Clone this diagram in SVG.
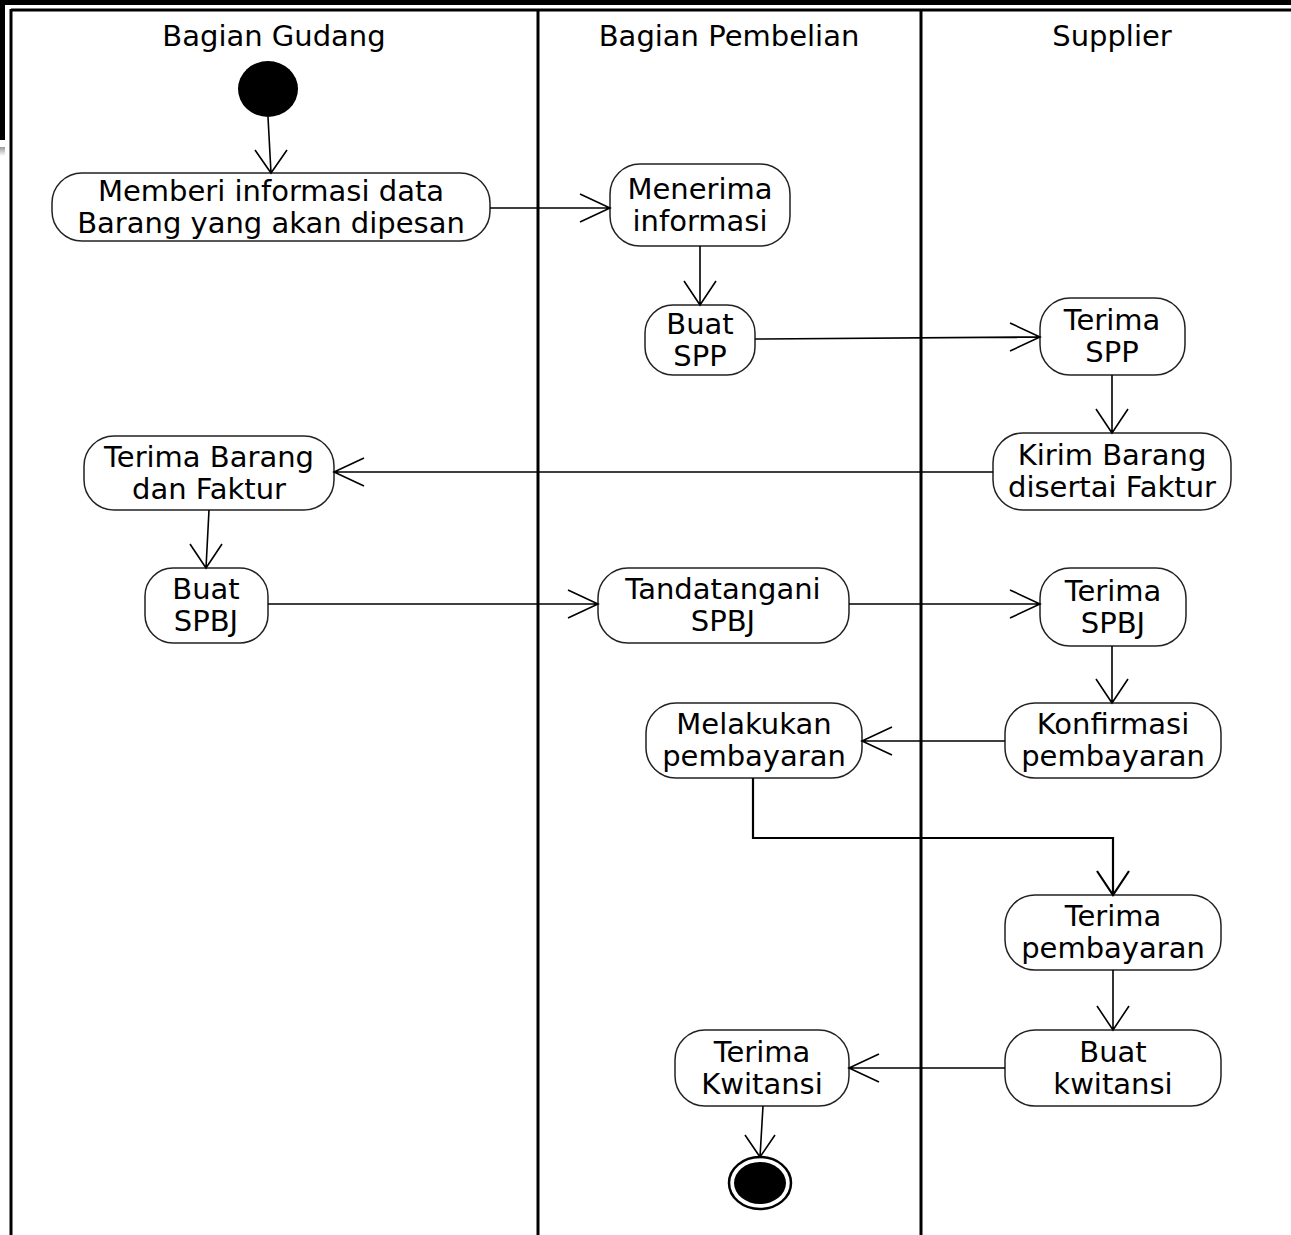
<svg xmlns="http://www.w3.org/2000/svg" width="1291" height="1235" viewBox="0 0 1291 1235">
<defs>
<linearGradient id="g1" x1="0" y1="0" x2="0" y2="1"><stop offset="0" stop-color="#999"/><stop offset="1" stop-color="#fff"/></linearGradient>
</defs>
<style>
.node rect{fill:#fff;stroke:#222;stroke-width:1.5}
text{font-family:"DejaVu Sans","Verdana",sans-serif;font-size:29px;fill:#000;text-anchor:middle}
.conn path{fill:none;stroke:#000;stroke-width:1.6}
.lane{stroke:#000;stroke-width:3}
</style>
<rect width="1291" height="1235" fill="#fff"/>
<g id="frame">
<rect x="0" y="0" width="1291" height="5" fill="#000"/>
<rect x="0" y="0" width="5" height="140" fill="#000"/>
<rect x="0" y="147" width="5" height="9" fill="url(#g1)"/>
<line class="lane" x1="11" y1="10" x2="1291" y2="10"/>
<line class="lane" x1="11" y1="9" x2="11" y2="1235"/>
<line class="lane" x1="538" y1="10" x2="538" y2="1235"/>
<line class="lane" x1="921" y1="10" x2="921" y2="1235"/>
</g>
<g id="headers">
<text x="274" y="46">Bagian Gudang</text>
<text x="729" y="46">Bagian Pembelian</text>
<text x="1112" y="46">Supplier</text>
</g>
<g id="start"><ellipse cx="268" cy="89" rx="30" ry="28" fill="#000"/></g>
<g id="n1" class="node"><rect x="52" y="173" width="438" height="68" rx="30"/><text x="271" y="201">Memberi informasi data</text><text x="271" y="233">Barang yang akan dipesan</text></g>
<g id="n2" class="node"><rect x="610" y="164" width="180" height="82" rx="30"/><text x="700" y="199">Menerima</text><text x="700" y="231">informasi</text></g>
<g id="n3" class="node"><rect x="645" y="305" width="110" height="70" rx="28"/><text x="700" y="334">Buat</text><text x="700" y="366">SPP</text></g>
<g id="n4" class="node"><rect x="1040" y="298" width="145" height="77" rx="30"/><text x="1112" y="330">Terima</text><text x="1112" y="362">SPP</text></g>
<g id="n5" class="node"><rect x="993" y="433" width="238" height="77" rx="30"/><text x="1112" y="465">Kirim Barang</text><text x="1112" y="497">disertai Faktur</text></g>
<g id="n6" class="node"><rect x="84" y="436" width="250" height="74" rx="30"/><text x="209" y="467">Terima Barang</text><text x="209" y="499">dan Faktur</text></g>
<g id="n7" class="node"><rect x="145" y="568" width="123" height="75" rx="28"/><text x="206" y="599">Buat</text><text x="206" y="631">SPBJ</text></g>
<g id="n8" class="node"><rect x="598" y="568" width="251" height="75" rx="30"/><text x="723" y="599">Tandatangani</text><text x="723" y="631">SPBJ</text></g>
<g id="n9" class="node"><rect x="1040" y="568" width="146" height="78" rx="30"/><text x="1113" y="601">Terima</text><text x="1113" y="633">SPBJ</text></g>
<g id="n10" class="node"><rect x="1005" y="703" width="216" height="75" rx="30"/><text x="1113" y="734">Konfirmasi</text><text x="1113" y="766">pembayaran</text></g>
<g id="n11" class="node"><rect x="646" y="703" width="216" height="75" rx="30"/><text x="754" y="734">Melakukan</text><text x="754" y="766">pembayaran</text></g>
<g id="n12" class="node"><rect x="1005" y="895" width="216" height="75" rx="30"/><text x="1113" y="926">Terima</text><text x="1113" y="958">pembayaran</text></g>
<g id="n13" class="node"><rect x="1005" y="1030" width="216" height="76" rx="30"/><text x="1113" y="1062">Buat</text><text x="1113" y="1094">kwitansi</text></g>
<g id="n14" class="node"><rect x="675" y="1030" width="174" height="76" rx="30"/><text x="762" y="1062">Terima</text><text x="762" y="1094">Kwitansi</text></g>
<g id="end"><ellipse cx="760" cy="1183" rx="31" ry="26" fill="#fff" stroke="#000" stroke-width="2.5"/><ellipse cx="760" cy="1183" rx="26" ry="21" fill="#000"/></g>
<g id="connectors" class="conn">
<path d="M268 117 L271 173 M255 150 L271 173 L287 150"/>
<path d="M490 208 L610 208 M580 194 L610 208 L580 222"/>
<path d="M700 246 L700 305 M684 281 L700 305 L716 281"/>
<path d="M755 339 L1040 337 M1010 323 L1040 337 L1010 351"/>
<path d="M1112 375 L1112 433 M1096 409 L1112 433 L1128 409"/>
<path d="M993 472 L334 472 M364 458 L334 472 L364 486"/>
<path d="M209 510 L206 568 M190 544 L206 568 L222 544"/>
<path d="M268 604 L598 604 M568 590 L598 604 L568 618"/>
<path d="M849 604 L1040 604 M1010 590 L1040 604 L1010 618"/>
<path d="M1112 646 L1112 703 M1096 679 L1112 703 L1128 679"/>
<path d="M1005 741 L862 741 M892 727 L862 741 L892 755"/>
<path d="M753 778 L753 838 L1113 838 L1113 895 M1097 871 L1113 895 L1129 871" style="stroke-width:2.2"/>
<path d="M1113 970 L1113 1030 M1097 1006 L1113 1030 L1129 1006"/>
<path d="M1005 1068 L849 1068 M879 1054 L849 1068 L879 1082"/>
<path d="M763 1106 L760 1157 M745 1135 L760 1157 L775 1135"/>
</g>
</svg>
